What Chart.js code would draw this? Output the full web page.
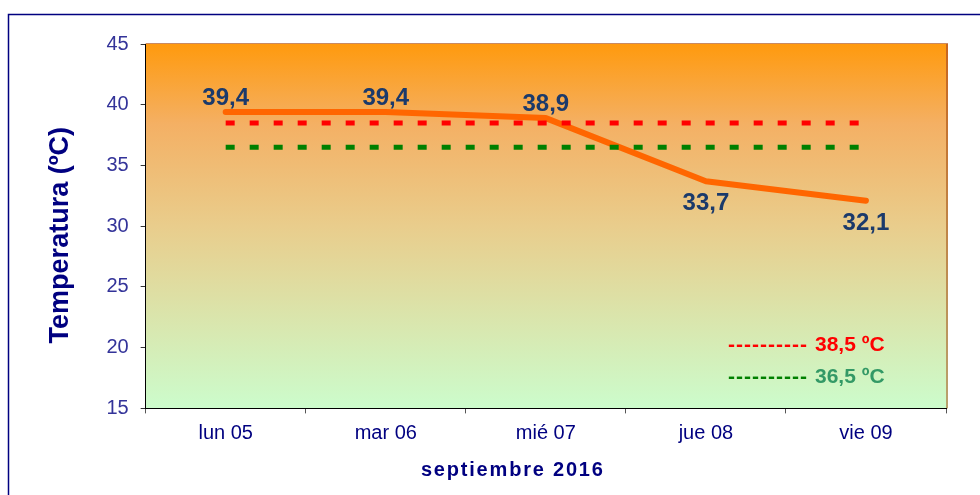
<!DOCTYPE html>
<html>
<head>
<meta charset="utf-8">
<script src="https://cdn.jsdelivr.net/npm/chart.js@4.4.1/dist/chart.umd.min.js"></script>
<style>
  html, body { margin: 0; padding: 0; background: #fff; }
</style>
</head>
<body>
<canvas id="chart1" width="980" height="495"></canvas>
<script>
var days = ['lun 05', 'mar 06', 'mié 07', 'jue 08', 'vie 09'];
var temps = [39.4, 39.4, 38.9, 33.7, 32.1];
var limitHigh = [38.5, 38.5, 38.5, 38.5, 38.5];
var limitLow = [36.5, 36.5, 36.5, 36.5, 36.5];
var yTicks = [15, 20, 25, 30, 35, 40, 45];
var labelPos = ['top', 'top', 'top', 'bottom', 'bottom'];

var FONT = '"Liberation Sans", Arial, sans-serif';

function fmt(v) {
  return v.toFixed(1).replace('.', ',');
}

// gradient plot background + outer frame
var plotBackground = {
  id: 'plotBackground',
  beforeDraw: function(chart) {
    var ctx = chart.ctx;
    var a = chart.chartArea;
    ctx.save();
    ctx.fillStyle = '#fff';
    ctx.fillRect(0, 0, chart.width, chart.height);

    ctx.strokeStyle = '#000080';
    ctx.lineWidth = 1.5;
    ctx.strokeRect(8.5, 14.5, chart.width + 20, chart.height + 20);

    var g = ctx.createLinearGradient(0, a.top, 0, a.bottom);
    g.addColorStop(0, '#FF9A0E');
    g.addColorStop(0.22, '#F4B064');
    g.addColorStop(0.5, '#E9CD8C');
    g.addColorStop(0.75, '#DAE5AC');
    g.addColorStop(1, '#CCFCCC');
    ctx.fillStyle = g;
    ctx.fillRect(a.left, a.top, a.right - a.left, a.bottom - a.top);

    var g2 = ctx.createLinearGradient(0, a.top, 0, a.bottom);
    g2.addColorStop(0, '#C8661E');
    g2.addColorStop(1, '#B8A26E');
    ctx.fillStyle = g2;
    ctx.fillRect(a.right, a.top, 2, a.bottom - a.top);
    ctx.fillStyle = '#C98A62';
    ctx.fillRect(a.left, a.top - 1, a.right - a.left + 2, 1);
    ctx.restore();
  }
};

// value labels on the temperature line
var valueLabels = {
  id: 'valueLabels',
  afterDatasetsDraw: function(chart) {
    var meta = chart.getDatasetMeta(0);
    var ctx = chart.ctx;
    ctx.save();
    ctx.font = 'bold 24px ' + FONT;
    ctx.fillStyle = '#1B3A6B';
    ctx.textAlign = 'center';
    ctx.textBaseline = 'alphabetic';
    meta.data.forEach(function(pt, i) {
      var y = labelPos[i] === 'top' ? pt.y - 7 : pt.y + 29;
      ctx.fillText(fmt(temps[i]), pt.x, y);
    });
    ctx.restore();
  }
};

// text legend for the limit lines
var limitLegend = {
  id: 'limitLegend',
  afterDatasetsDraw: function(chart) {
    var ctx = chart.ctx;
    var a = chart.chartArea;
    var items = [
      { val: limitHigh[0], dash: '#FF0000', text: '#FF0000' },
      { val: limitLow[0], dash: '#008000', text: '#339966' }
    ];
    ctx.save();
    ctx.font = 'bold 21px ' + FONT;
    ctx.textAlign = 'left';
    ctx.textBaseline = 'alphabetic';
    items.forEach(function(it, i) {
      var x = a.right - 218;
      var y = a.bottom - 57 + i * 32;
      ctx.letterSpacing = '1px';
      ctx.fillStyle = it.dash;
      ctx.fillText('----------', x, y);
      ctx.letterSpacing = '0px';
      ctx.fillStyle = it.text;
      ctx.fillText(fmt(it.val) + ' ºC', x + 87, y);
    });
    ctx.restore();
  }
};

// axis title tweaks: spacing and shift like the original
var titleTweaks = {
  id: 'titleTweaks',
  afterLayout: function(chart) {
    var sx = chart.scales.x, sy = chart.scales.y;
    if (!sx._tweaked) {
      var ox = sx.drawTitle;
      sx.drawTitle = function() {
        var c = this.ctx;
        c.save();
        c.letterSpacing = '1.8px';
        c.translate(-33, 0);
        ox.call(this);
        c.restore();
      };
      sx._tweaked = true;
    }
    if (!sy._tweaked) {
      var oy = sy.drawTitle;
      sy.drawTitle = function() {
        var c = this.ctx;
        c.save();
        c.translate(0, 9);
        oy.call(this);
        c.restore();
      };
      sy._tweaked = true;
    }
  }
};

var chart1 = new Chart(document.getElementById('chart1'), {
  type: 'line',
  data: {
    labels: days,
    datasets: [{
      label: 'Temperatura',
      data: temps,
      borderColor: '#FF6600',
      borderWidth: 6,
      borderCapStyle: 'round',
      borderJoinStyle: 'round',
      pointRadius: 0,
      tension: 0,
      order: 1
    }, {
      label: '38,5 ºC',
      data: limitHigh,
      borderColor: '#FF0000',
      borderWidth: 5,
      borderDash: [9, 15],
      pointRadius: 0,
      order: 0
    }, {
      label: '36,5 ºC',
      data: limitLow,
      borderColor: '#008000',
      borderWidth: 5,
      borderDash: [9, 15],
      pointRadius: 0,
      order: 0
    }]
  },
  options: {
    responsive: false,
    animation: false,
    devicePixelRatio: 1,
    layout: { padding: { left: 10, top: 44, right: 34, bottom: 4 } },
    plugins: {
      legend: { display: false },
      tooltip: { enabled: false }
    },
    scales: {
      x: {
        offset: true,
        grid: {
          offset: true,
          drawOnChartArea: false,
          drawTicks: true,
          tickLength: 5,
          color: '#555'
        },
        border: { display: true, color: '#000', width: 1 },
        ticks: {
          autoSkip: false,
          maxRotation: 0,
          padding: 8,
          color: '#000080',
          font: { family: FONT, size: 20 }
        },
        title: {
          display: true,
          text: 'septiembre 2016',
          color: '#000080',
          font: { family: FONT, size: 20, weight: 'bold', lineHeight: 1.08 },
          padding: { top: 6, bottom: 10 }
        }
      },
      y: {
        min: yTicks[0],
        max: yTicks[yTicks.length - 1],
        afterBuildTicks: function(scale) {
          scale.ticks = yTicks.map(function(v) { return { value: v }; });
        },
        grid: {
          drawOnChartArea: false,
          drawTicks: true,
          tickLength: 5,
          color: '#333'
        },
        border: { display: true, color: '#000', width: 1 },
        ticks: {
          padding: 12,
          color: '#333399',
          font: { family: FONT, size: 20 }
        },
        title: {
          display: true,
          text: 'Temperatura (ºC)',
          color: '#000080',
          font: { family: FONT, size: 27, weight: 'bold' },
          padding: { top: 34, bottom: 18 }
        }
      }
    }
  },
  plugins: [plotBackground, valueLabels, limitLegend, titleTweaks]
});
</script>
</body>
</html>
